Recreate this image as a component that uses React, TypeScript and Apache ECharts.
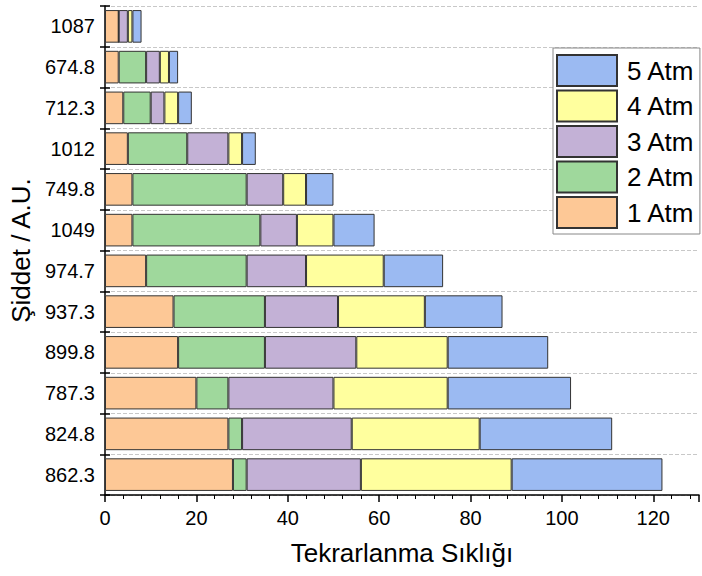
import React, { useEffect, useRef } from "react";
import * as echarts from "echarts";

const categories = ["862.3", "824.8", "787.3", "899.8", "937.3", "974.7", "1049", "749.8", "1012", "712.3", "674.8", "1087"];
const atm1 = [28, 27, 20, 16, 15, 9, 6, 6, 5, 4, 3, 3];
const atm2 = [3, 3, 7, 19, 20, 22, 28, 25, 13, 6, 6, 0];
const atm3 = [25, 24, 23, 20, 16, 13, 8, 8, 9, 3, 3, 2];
const atm4 = [33, 28, 25, 20, 19, 17, 8, 5, 3, 3, 2, 1];
const atm5 = [33, 29, 27, 22, 17, 13, 9, 6, 3, 3, 2, 2];
const seriesNames = ["1 Atm", "2 Atm", "3 Atm", "4 Atm", "5 Atm"];
const seriesData = [atm1, atm2, atm3, atm4, atm5];
const colors = ["#FDC896", "#9FD89C", "#C3B1D6", "#FFFF9E", "#9BBAF2"];

const FONT = "'Liberation Sans', Arial, sans-serif";

export default function App() {
  const ref = useRef<HTMLDivElement>(null);
  useEffect(() => {
    if (!ref.current) return;
    const chart = echarts.init(ref.current, null, { renderer: "svg" });
    chart.setOption({
      animation: false,
      textStyle: { fontFamily: FONT, color: "#000" },
      grid: { left: 105, top: 6, right: 3, bottom: 81, containLabel: false, outerBoundsMode: "none" },
      legend: {
        orient: "vertical",
        left: 553,
        top: 48,
        data: [...seriesNames].reverse(),
        icon: "rect",
        itemWidth: 60,
        itemHeight: 31,
        itemGap: 2.5,
        padding: [6, 5, 5, 3],
        borderColor: "#888",
        borderWidth: 1,
        borderRadius: 0,
        backgroundColor: "#fff",
        textStyle: { fontSize: 26, lineHeight: 31, fontFamily: FONT, color: "#000", padding: [0, 0, 0, 5] },
      },
      xAxis: {
        type: "value",
        min: 0,
        max: 130,
        interval: 20,
        name: "Tekrarlanma Sıklığı",
        nameLocation: "middle",
        nameGap: 45,
        nameTextStyle: { fontSize: 26, fontFamily: FONT, color: "#000" },
        axisLine: { show: true, lineStyle: { color: "#000", width: 1.5 } },
        axisTick: { show: true, inside: false, length: 7, lineStyle: { color: "#000", width: 1.5 } },
        minorTick: { show: true, splitNumber: 5, length: 4, lineStyle: { color: "#000", width: 1 } },
        axisLabel: { fontSize: 20, color: "#000", margin: 13, fontFamily: FONT, showMaxLabel: false },
        splitLine: { show: false },
      },
      yAxis: [
        {
          type: "category",
          data: categories,
          name: "Şiddet / A.U.",
          nameLocation: "middle",
          nameGap: 70,
          nameTextStyle: { fontSize: 26, fontFamily: FONT, color: "#000" },
          axisLine: { show: true, lineStyle: { color: "#000", width: 1.5 } },
          axisTick: { show: true, inside: false, length: 5, lineStyle: { color: "#000", width: 1.5 } },
          axisLabel: { fontSize: 20, color: "#000", margin: 10, fontFamily: FONT },
          splitLine: { show: true, lineStyle: { color: "#c8c8c8", type: "dashed", width: 1 } },
        },
        {
          type: "category",
          data: categories,
          position: "left",
          axisLine: { show: false },
          axisTick: { show: true, inside: true, length: 5, lineStyle: { color: "#000", width: 1.5 } },
          axisLabel: { show: false },
          splitLine: { show: false },
        },
      ],
      series: seriesNames.map((name, i) => ({
        name,
        type: "bar",
        stack: "total",
        yAxisIndex: 0,
        barCategoryGap: "20%",
        data: seriesData[i],
        itemStyle: { color: colors[i], borderColor: "#333", borderWidth: 1 },
      })),
    });
    return () => chart.dispose();
  }, []);
  return <div ref={ref} style={{ width: 702, height: 576, position: "absolute", left: 0, top: 0 }} />;
}
